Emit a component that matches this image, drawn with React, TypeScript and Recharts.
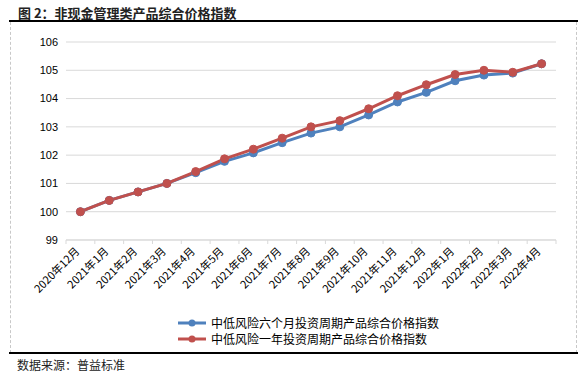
import React from "react";
import {
  LineChart,
  Line,
  XAxis,
  YAxis,
  CartesianGrid,
  Legend,
} from "recharts";

const months = [
  "2020年12月", "2021年1月", "2021年2月", "2021年3月", "2021年4月",
  "2021年5月", "2021年6月", "2021年7月", "2021年8月", "2021年9月",
  "2021年10月", "2021年11月", "2021年12月", "2022年1月", "2022年2月",
  "2022年3月", "2022年4月",
];

const sixMonth = [
  100.0, 100.4, 100.7, 101.0, 101.38, 101.78, 102.08, 102.44, 102.78, 103.0,
  103.42, 103.88, 104.22, 104.63, 104.83, 104.9, 105.23,
];

const oneYear = [
  100.0, 100.4, 100.7, 101.0, 101.42, 101.87, 102.21, 102.6, 103.0, 103.22,
  103.64, 104.1, 104.49, 104.85, 105.0, 104.93, 105.23,
];

const yTicks = [99, 100, 101, 102, 103, 104, 105, 106];

const seriesNames = [
  "中低风险六个月投资周期产品综合价格指数",
  "中低风险一年投资周期产品综合价格指数",
];
const BLUE = "#4F81BD";
const RED = "#C0504D";

const data = months.map((m, i) => ({
  month: m,
  six: sixMonth[i],
  year: oneYear[i],
}));

const CHART_W = 567;
const Y_W = 56;
const RIGHT = 21;
const BAND = (CHART_W - Y_W - RIGHT) / months.length;

const cjk = '"Noto Sans CJK SC", "Noto Sans", sans-serif';

function MonthTick(props: any) {
  const { x, y, payload, index } = props;
  const half = BAND / 2;
  return (
    <g>
      <line x1={x - half} y1={y - 8} x2={x - half} y2={y - 4} stroke="#D9D9D9" />
      {index === months.length - 1 && (
        <line x1={x + half} y1={y - 8} x2={x + half} y2={y - 4} stroke="#D9D9D9" />
      )}
      <text
        x={x}
        y={y + 4}
        transform={`rotate(-45 ${x} ${y + 4})`}
        textAnchor="end"
        fontSize={11}
        fontFamily={cjk}
        fill="#000"
      >
        {payload.value}
      </text>
    </g>
  );
}

function LegendBox() {
  const colors = [BLUE, RED];
  return (
    <div style={{ paddingLeft: 167, fontFamily: cjk, fontSize: 12, lineHeight: "16px", color: "#000" }}>
      {seriesNames.map((n, i) => (
        <div key={n} style={{ display: "flex", alignItems: "center", height: 16 }}>
          <svg width={30} height={10} style={{ marginRight: 4 }}>
            <line x1={1} y1={5} x2={29} y2={5} stroke={colors[i]} strokeWidth={3} />
            <circle cx={15} cy={5} r={3.5} fill={colors[i]} />
          </svg>
          <span>{n}</span>
        </div>
      ))}
    </div>
  );
}

export default function App() {
  return (
    <div
      style={{
        position: "absolute",
        left: 0,
        top: 0,
        width: 588,
        height: 372,
        background: "#fff",
        fontFamily: cjk,
      }}
    >
      {/* Title */}
      <div
        style={{
          position: "absolute",
          left: 18,
          top: 3,
          fontSize: 13,
          fontWeight: 700,
          color: "#222",
          whiteSpace: "nowrap",
        }}
      >
        图 2：非现金管理类产品综合价格指数
      </div>
      <div style={{ position: "absolute", left: 9, top: 20, width: 569, height: 2, background: "#000" }} />
      <div
        style={{
          position: "absolute",
          left: 10,
          top: 22,
          width: CHART_W,
          height: 331,
          borderLeft: "1px dashed #C8C8C8",
          borderRight: "1px dashed #C8C8C8",
          boxSizing: "border-box",
        }}
      />

      <div style={{ position: "absolute", left: 10, top: 21 }}>
        <LineChart
          width={CHART_W}
          height={332}
          data={data}
          margin={{ top: 21, right: RIGHT, left: 0, bottom: 6 }}
        >
          <CartesianGrid vertical={false} stroke="#D9D9D9" />
          <XAxis
            dataKey="month"
            interval={0}
            padding={{ left: BAND / 2, right: BAND / 2 }}
            tickLine={false}
            axisLine={{ stroke: "#D9D9D9" }}
            tick={<MonthTick />}
            height={75}
          />
          <YAxis
            domain={[99, 106]}
            ticks={yTicks}
            width={Y_W}
            axisLine={false}
            tickLine={false}
            tick={{ fontSize: 11, fill: "#000", fontFamily: "Liberation Sans, Arial" }}
          />
          <Legend
            verticalAlign="bottom"
            height={32}
            content={<LegendBox />}
          />
          <Line
            dataKey="six"
            name={seriesNames[0]}
            stroke={BLUE}
            strokeWidth={3}
            dot={{ r: 4, fill: BLUE, stroke: BLUE, strokeWidth: 1 }}
            isAnimationActive={false}
          />
          <Line
            dataKey="year"
            name={seriesNames[1]}
            stroke={RED}
            strokeWidth={3}
            dot={{ r: 4, fill: RED, stroke: RED, strokeWidth: 1 }}
            isAnimationActive={false}
          />
        </LineChart>
      </div>

      <div style={{ position: "absolute", left: 9, top: 352, width: 569, height: 2, background: "#000" }} />
      <div style={{ position: "absolute", left: 17, top: 356, fontSize: 12, color: "#222", whiteSpace: "nowrap" }}>
        数据来源：普益标准
      </div>
    </div>
  );
}
